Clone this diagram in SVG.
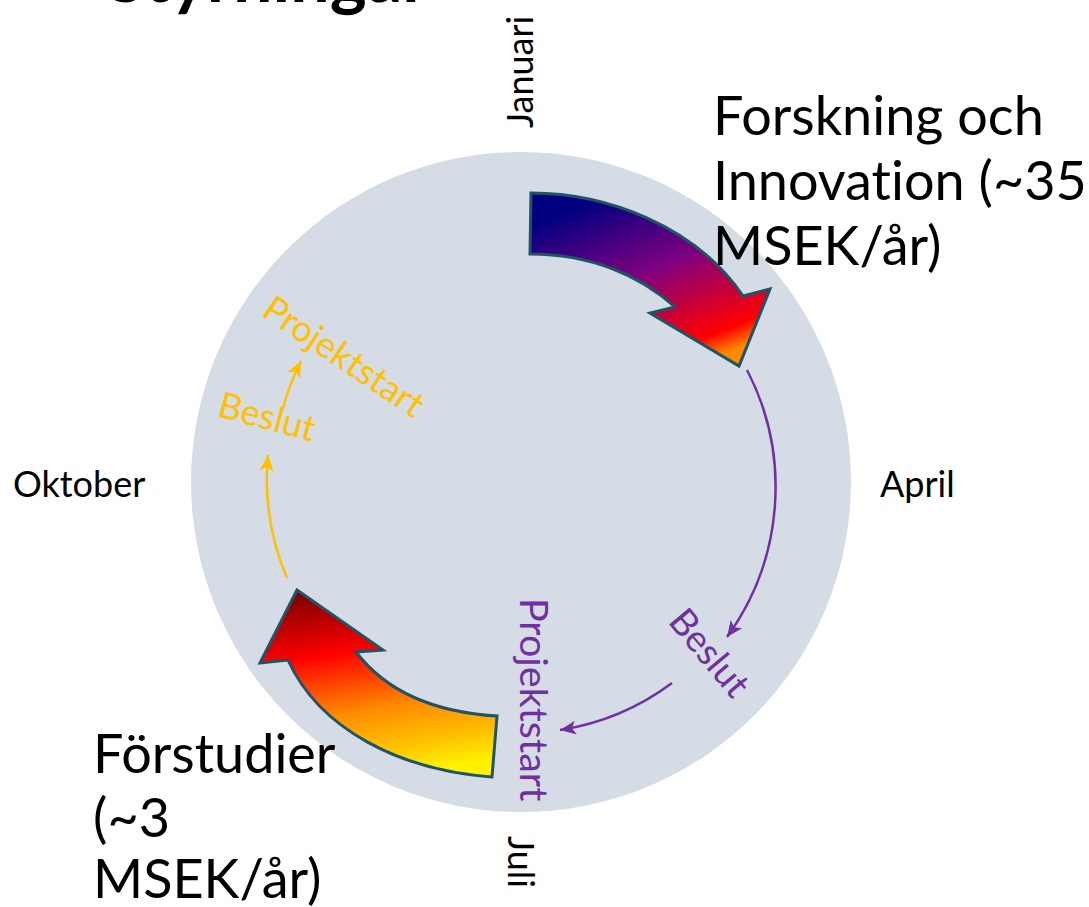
<svg xmlns="http://www.w3.org/2000/svg" width="1089" height="907" viewBox="0 0 1089 907">
  <style>
    text { font-variant-ligatures: none; font-feature-settings: "liga" 0; }
    .lbl { font-family: Lato, "Liberation Sans", sans-serif; fill: #000; }
    .big { font-size: 54px; }
    .month { font-size: 36px; }
    .yel { font-family: Lato, "Liberation Sans", sans-serif; fill: #FFC000; font-size: 36px; }
    .pur { font-family: Lato, "Liberation Sans", sans-serif; fill: #7030A0; font-size: 37px; }
    .pur.long { font-size: 39.5px; }
    .bigarrow { stroke: #1F5466; stroke-width: 3; stroke-linejoin: miter; }
    .conn { fill: none; stroke-width: 2.5; }
  </style>
  <defs>
    <linearGradient id="gradTop" gradientUnits="userSpaceOnUse" x1="620" y1="190" x2="690" y2="368">
      <stop offset="0" stop-color="#000080"/>
      <stop offset="0.45" stop-color="#800080"/>
      <stop offset="0.88" stop-color="#FF0000"/>
      <stop offset="1" stop-color="#FF8C00"/>
    </linearGradient>
    <linearGradient id="gradBot" gradientUnits="userSpaceOnUse" x1="330" y1="590" x2="360" y2="780">
      <stop offset="0" stop-color="#800000"/>
      <stop offset="0.33" stop-color="#FF0000"/>
      <stop offset="0.65" stop-color="#FF8C00"/>
      <stop offset="0.85" stop-color="#FFC000"/>
      <stop offset="1" stop-color="#FFF200"/>
    </linearGradient>
    <marker id="arrP" markerUnits="userSpaceOnUse" markerWidth="18" markerHeight="16" refX="16" refY="8" orient="auto">
      <path d="M0,1 L16,8 L0,15 L4,8 Z" fill="#7030A0"/>
    </marker>
    <marker id="arrY" markerUnits="userSpaceOnUse" markerWidth="18" markerHeight="16" refX="16" refY="8" orient="auto">
      <path d="M0,1 L16,8 L0,15 L4,8 Z" fill="#FFC000"/>
    </marker>
  </defs>

  <g id="title">
    <text class="lbl" x="107" y="2" font-size="70" font-weight="bold">Styrningar</text>
  </g>

  <g id="wheel">
    <circle cx="521" cy="482" r="330" fill="#D6DCE5"/>
  </g>

  <g id="months">
    <text class="lbl month" transform="translate(533,128) rotate(-90)">Januari</text>
    <text class="lbl month" x="880" y="497">April</text>
    <text class="lbl month" transform="translate(508,836) rotate(90)">Juli</text>
    <text class="lbl month" x="13" y="497">Oktober</text>
  </g>

  <g id="forskning-arrow">
    <path class="bigarrow" fill="url(#gradTop)" d="M531,193 C605,193 695,225 743,296 L770,289 L739,366 L650,313 L675,307 C640,275 590,254 530,254 Z"/>
  </g>
  <g id="forskning-label">
    <text class="lbl big" x="713" y="135">Forskning och</text>
    <text class="lbl big" x="713" y="200">Innovation (~35</text>
    <text class="lbl big" x="713" y="265">MSEK/år)</text>
  </g>

  <g id="forstudier-arrow">
    <path class="bigarrow" fill="url(#gradBot)" d="M297,590 L383,650 L356,652 C385,690 430,712 497,716 L492,777 C400,770 320,730 288,660 L260,663 Z"/>
  </g>
  <g id="forstudier-label">
    <text class="lbl big" x="93" y="773">Förstudier</text>
    <text class="lbl big" x="93" y="837">(~3</text>
    <text class="lbl big" x="93" y="898">MSEK/år)</text>
  </g>

  <g id="connectors">
    <path class="conn" stroke="#7030A0" marker-end="url(#arrP)" d="M747,370 A255,255 0 0 1 727,637"/>
    <path class="conn" stroke="#7030A0" marker-end="url(#arrP)" d="M672,683 A251,251 0 0 1 560,730"/>
    <path class="conn" stroke="#FFC000" marker-end="url(#arrY)" d="M287,578 A253,253 0 0 1 268,455"/>
    <path class="conn" stroke="#FFC000" marker-end="url(#arrY)" d="M283,408 A250,250 0 0 1 301,361"/>
  </g>

  <g id="purple-beslut">
    <text class="pur" transform="translate(667,622) rotate(50)">Beslut</text>
  </g>
  <g id="purple-projektstart">
    <text class="pur long" transform="translate(520,598) rotate(90)">Projektstart</text>
  </g>
  <g id="yellow-beslut">
    <text class="yel" transform="translate(216,416) rotate(15)">Beslut</text>
  </g>
  <g id="yellow-projektstart">
    <text class="yel" transform="translate(260,315) rotate(34)">Projektstart</text>
  </g>
</svg>
